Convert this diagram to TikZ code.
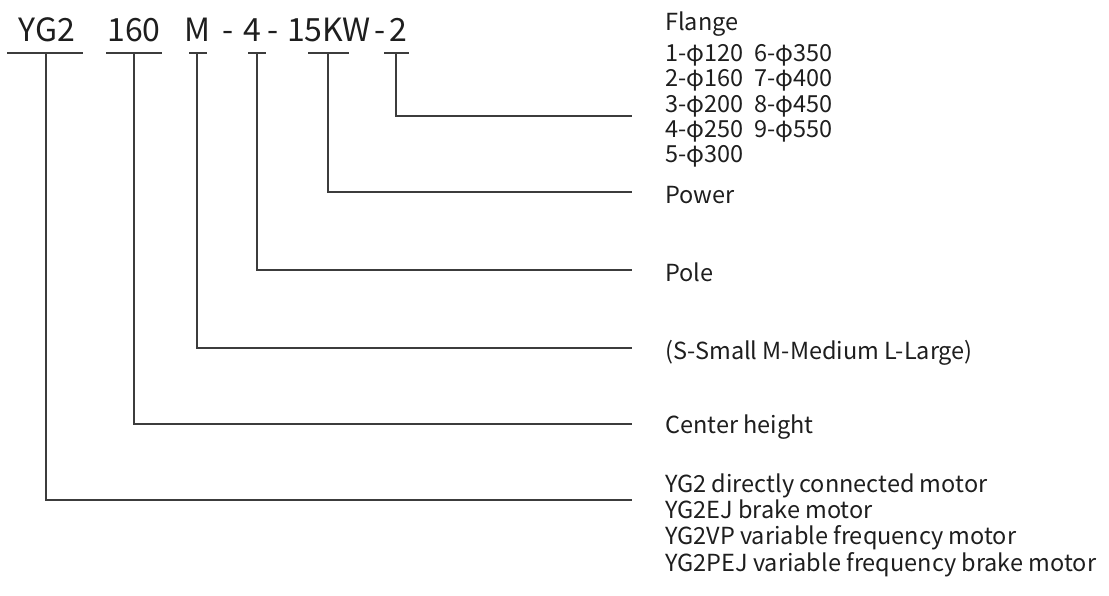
\documentclass[tikz,border=0pt]{standalone}
\usepackage{fontspec}
\setmainfont{Noto Sans CJK SC}
\definecolor{txt}{HTML}{1E1E1E}
\definecolor{ln}{HTML}{3C3C3C}
\begin{document}
\begin{tikzpicture}[x=1pt,y=-1pt]
\tikzset{
  code/.style={font=\fontsize{32}{36}\selectfont, anchor=base, inner sep=0pt, text=txt},
  desc/.style={font=\fontsize{23.5}{25.2}\selectfont, anchor=base west, inner sep=0pt, text=txt},
  conn/.style={draw=ln, line width=1.6pt},
  bar/.style={draw=ln, line width=1.6pt},
}
\useasboundingbox[fill=white] (0,0) rectangle (1109,595);
% code parts
\node[code] (cYG) at (47,41) {YG2};
\node[code] (c160) at (134,41) {160};
\node[code] (cM) at (197,41) {M};
\node[code] (d1) at (228,41) {-};
\node[code] (c4) at (252,41) {4};
\node[code] (d2) at (273,41) {-};
\node[code] (cKW) at (329,41) {15KW};
\node[code] (d3) at (380,41) {-};
\node[code] (c2) at (398,41) {2};
% underline bars
\draw[bar] (7,53) -- (83,53);
\draw[bar] (106,53) -- (162,53);
\draw[bar] (189,53) -- (207,53);
\draw[bar] (248,53) -- (266,53);
\draw[bar] (308,53) -- (349,53);
\draw[bar] (384,53) -- (409,53);
\coordinate (bYG) at (46,53);
\coordinate (b160) at (134,53);
\coordinate (bM) at (197,53);
\coordinate (b4) at (257,53);
\coordinate (bKW) at (328,53);
\coordinate (b2) at (396,53);
% line ends
\coordinate (e2) at (632,116);
\coordinate (eKW) at (632,192);
\coordinate (e4) at (632,270);
\coordinate (eM) at (632,348);
\coordinate (e160) at (632,424);
\coordinate (eYG) at (632,500);
% descriptions
\node[desc] (tFl) at (665,30) {\begin{tabular}[t]{@{}l@{\hspace{11pt}}l@{}}Flange & \\[6.5pt]
1-φ120 & 6-φ350\\
2-φ160 & 7-φ400\\
3-φ200 & 8-φ450\\
4-φ250 & 9-φ550\\
5-φ300 & \end{tabular}};
\node[desc] (tKW) at (665,203) {Power};
\node[desc] (t4) at (665,281) {Pole};
\node[desc] (tM) at (665,359) {(S-Small M-Medium L-Large)};
\node[desc] (t160) at (665,433) {Center height};
\node[desc] (tYG) at (665,492) {\begin{tabular}[t]{@{}l@{}}YG2 directly connected motor\\
YG2EJ brake motor\\
YG2VP variable frequency motor\\
YG2PEJ variable frequency brake motor\end{tabular}};
% connectors
\draw[conn] (b2) |- (e2);
\draw[conn] (bKW) |- (eKW);
\draw[conn] (b4) |- (e4);
\draw[conn] (bM) |- (eM);
\draw[conn] (b160) |- (e160);
\draw[conn] (bYG) |- (eYG);
\end{tikzpicture}
\end{document}
